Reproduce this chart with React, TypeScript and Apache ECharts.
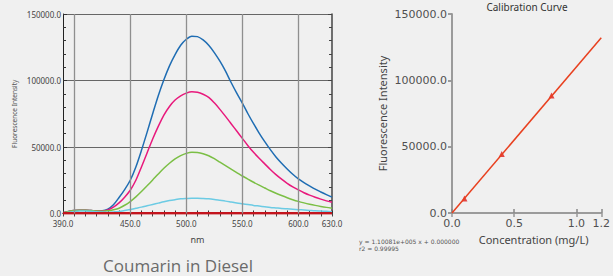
import React, { useEffect, useRef } from "react";
import * as echarts from "echarts";

const wavelengths = [390, 395, 400, 405, 410, 415, 420, 425, 430, 435, 440, 445, 450, 455, 460, 465, 470, 475, 480, 485, 490, 495, 500, 505, 510, 515, 520, 525, 530, 535, 540, 545, 550, 555, 560, 565, 570, 575, 580, 585, 590, 595, 600, 605, 610, 615, 620, 625, 630];
const blueValues = [600, 1500, 2200, 2500, 2500, 2200, 1900, 2000, 3200, 6500, 12000, 18000, 25000, 35000, 47500, 61000, 75000, 88500, 100500, 111000, 119500, 126500, 131000, 133300, 133000, 130500, 126500, 121000, 114500, 107000, 98500, 90500, 83000, 75000, 67500, 60500, 54000, 48000, 42500, 37800, 33500, 29500, 26000, 23200, 20700, 18300, 16200, 14200, 12300];
const magentaValues = [600, 1500, 2200, 2500, 2500, 2200, 1800, 1800, 2700, 4800, 8000, 12300, 17500, 25000, 35000, 45500, 56000, 65500, 74000, 80500, 85300, 88500, 90500, 91500, 91200, 89700, 87300, 83200, 78300, 73000, 67500, 62000, 56500, 51000, 46000, 41500, 37300, 33100, 29200, 25800, 22700, 20000, 17700, 15600, 13800, 12200, 10800, 9500, 8400];
const greenValues = [600, 1500, 2200, 2500, 2500, 2200, 1800, 1700, 2000, 2800, 4000, 6200, 9000, 12500, 16500, 20800, 25200, 29700, 34000, 37800, 41000, 43500, 45200, 46000, 45800, 44900, 43400, 41200, 38600, 36000, 33400, 30800, 28200, 25800, 23500, 21300, 19200, 17100, 15200, 13500, 11900, 10400, 9100, 8000, 7000, 6100, 5300, 4600, 4000];
const cyanValues = [300, 900, 1500, 1800, 1800, 1600, 1300, 1100, 1000, 1200, 1500, 2200, 3000, 3900, 4800, 5800, 6800, 7800, 8800, 9700, 10400, 11000, 11300, 11500, 11500, 11300, 11000, 10500, 9900, 9300, 8600, 7900, 7300, 6700, 6100, 5600, 5100, 4600, 4200, 3800, 3500, 3200, 2900, 2600, 2300, 2000, 1800, 1600, 1400];
const redValues = [150, 180, 200, 200, 200, 200, 200, 200, 200, 200, 200, 200, 200, 200, 200, 200, 200, 200, 200, 200, 200, 200, 200, 200, 200, 200, 200, 200, 200, 200, 200, 200, 200, 200, 200, 200, 200, 200, 200, 200, 200, 200, 200, 200, 200, 200, 200, 200, 200];

const spectrumXLabels = [390, 450, 500, 550, 600, 630];
const spectrumGridX = [400, 450, 500, 550, 600];

const calibConc = [0.1, 0.4, 0.8];
const calibIntensity = [11000, 44500, 88500];
const fitConc = [0, 1.2];
const fitIntensity = [0, 132097];

const equationLines = ["y = 1.10081e+005 x + 0.000000", "r2 = 0.99995"];

const pair = (xs: number[], ys: number[]) => xs.map((x, i) => [x, ys[i]]);

export default function App() {
  const ref = useRef<HTMLDivElement>(null);
  useEffect(() => {
    if (!ref.current) return;
    const chart = echarts.init(ref.current, null, { renderer: "svg" });
    const leftFont = "Noto Sans";
    const rightFont = "DejaVu Sans";
    const curve = (name: string, ys: number[], color: string, width = 1.5) => ({
      name,
      type: "line",
      xAxisIndex: 0,
      yAxisIndex: 0,
      data: pair(wavelengths, ys),
      smooth: 0.3,
      showSymbol: false,
      symbol: "none",
      lineStyle: { color, width },
      z: 3,
    });
    chart.setOption({
      animation: false,
      backgroundColor: "#f0f0f0",
      grid: [
        { left: 63, top: 14, width: 269, height: 199.5 },
        { left: 452, top: 14, width: 156, height: 199 },
      ],
      xAxis: [
        {
          gridIndex: 0,
          type: "value",
          min: 390,
          max: 630,
          interval: 10,
          axisLine: { lineStyle: { color: "#222", width: 1 } },
          axisTick: { inside: true, length: 3, lineStyle: { color: "#333" } },
          axisLabel: {
            formatter: (v: number) => (spectrumXLabels.includes(Math.round(v)) ? v.toFixed(1) : ""),
            fontSize: 8,
            color: "#444",
            fontFamily: leftFont,
            margin: 6,
          },
          splitLine: { show: false },
          name: "nm",
          nameLocation: "middle",
          nameGap: 21,
          nameTextStyle: { fontSize: 9, color: "#444", fontFamily: leftFont },
        },
        {
          gridIndex: 0,
          type: "value",
          position: "top",
          min: 390,
          max: 630,
          interval: 10,
          axisLine: { lineStyle: { color: "#444", width: 1 } },
          axisTick: { inside: true, length: 3, lineStyle: { color: "#444" } },
          axisLabel: { show: false },
          splitLine: { show: false },
        },
        {
          gridIndex: 1,
          type: "value",
          min: 0,
          max: 1.2,
          interval: 0.5,
          axisLine: { lineStyle: { color: "#888", width: 1.5 } },
          axisTick: { inside: true, length: 4, lineStyle: { color: "#888", width: 1.5 } },
          axisLabel: {
            formatter: (v: number) => v.toFixed(1),
            fontSize: 11,
            color: "#505050",
            fontFamily: rightFont,
            margin: 5,
          },
          splitLine: { show: false },
          name: "Concentration (mg/L)",
          nameLocation: "middle",
          nameGap: 20,
          nameTextStyle: { fontSize: 11, color: "#444", fontFamily: leftFont, padding: [0, 0, 0, 14] },
        },
        {
          gridIndex: 1,
          type: "value",
          position: "top",
          min: 0,
          max: 1.2,
          interval: 0.5,
          axisLine: { lineStyle: { color: "#999", width: 1.5 } },
          axisTick: { inside: true, length: 4, lineStyle: { color: "#999", width: 1.5 } },
          axisLabel: { show: false },
          splitLine: { show: false },
        },
      ],
      yAxis: [
        {
          gridIndex: 0,
          type: "value",
          min: 0,
          max: 150000,
          interval: 50000,
          axisLine: { show: true, lineStyle: { color: "#222", width: 1 } },
          axisTick: { show: true, inside: true, length: 4, lineStyle: { color: "#333" } },
          minorTick: { show: true, splitNumber: 5, length: 3, lineStyle: { color: "#333" } },
          axisLabel: {
            formatter: (v: number) => v.toFixed(1),
            fontSize: 8,
            color: "#444",
            fontFamily: leftFont,
            margin: 2,
          },
          splitLine: { show: true, lineStyle: { color: "#666", width: 1 } },
          name: "Fluorescence Intensity",
          nameLocation: "middle",
          nameGap: 45,
          nameTextStyle: { fontSize: 6.5, color: "#555", fontFamily: leftFont },
        },
        {
          gridIndex: 0,
          type: "value",
          position: "right",
          min: 0,
          max: 150000,
          interval: 50000,
          axisLine: { show: true, lineStyle: { color: "#444", width: 1.5 } },
          axisTick: { show: true, inside: true, length: 4, lineStyle: { color: "#444" } },
          minorTick: { show: true, splitNumber: 5, length: 3, lineStyle: { color: "#444" } },
          axisLabel: { show: false },
          splitLine: { show: false },
        },
        {
          gridIndex: 1,
          type: "value",
          min: 0,
          max: 150000,
          interval: 50000,
          axisLine: { show: true, lineStyle: { color: "#888", width: 1.5 } },
          axisTick: { show: true, inside: false, length: 4, lineStyle: { color: "#888", width: 1.5 } },
          axisLabel: {
            formatter: (v: number) => v.toFixed(1),
            fontSize: 11,
            color: "#505050",
            fontFamily: rightFont,
            margin: 5,
          },
          splitLine: { show: false },
          name: "Fluorescence Intensity",
          nameLocation: "middle",
          nameGap: 64,
          nameTextStyle: { fontSize: 11, color: "#444", fontFamily: leftFont },
        },
        {
          gridIndex: 1,
          type: "value",
          position: "right",
          min: 0,
          max: 150000,
          interval: 50000,
          axisLine: { show: true, lineStyle: { color: "#999", width: 1.5 } },
          axisTick: { show: true, inside: true, length: 4, lineStyle: { color: "#999", width: 1.5 } },
          axisLabel: { show: false },
          splitLine: { show: false },
        },
      ],
      series: [
        {
          type: "line",
          xAxisIndex: 0,
          yAxisIndex: 0,
          data: [],
          symbol: "none",
          z: 1,
          markLine: {
            silent: true,
            symbol: "none",
            label: { show: false },
            lineStyle: { color: "#8f8f8f", width: 1.3, type: "solid" },
            data: spectrumGridX.map((x) => ({ xAxis: x })),
          },
        },
        curve("blue", blueValues, "#1f6db3"),
        curve("magenta", magentaValues, "#e8197c"),
        curve("green", greenValues, "#7bbf45"),
        curve("cyan", cyanValues, "#6ccbe4"),
        curve("red", redValues, "#c3141d", 2.5),
        {
          type: "line",
          xAxisIndex: 2,
          yAxisIndex: 2,
          data: pair(fitConc, fitIntensity),
          symbol: "none",
          lineStyle: { color: "#e8401f", width: 1.5 },
        },
        {
          type: "scatter",
          xAxisIndex: 2,
          yAxisIndex: 2,
          data: pair(calibConc, calibIntensity),
          symbol: "triangle",
          symbolSize: 6,
          itemStyle: { color: "#dd1a1a" },
        },
      ],
      graphic: [
        {
          type: "text",
          x: 178,
          y: 265,
          style: {
            text: "Coumarin in Diesel",
            fontSize: 17,
            fontFamily: "Open Sans",
            fill: "#6a6a6a",
            textAlign: "center",
            textVerticalAlign: "middle",
          },
        },
        {
          type: "text",
          x: 527,
          y: 7,
          style: {
            text: "Calibration Curve",
            fontSize: 10,
            fontFamily: leftFont,
            fill: "#333",
            textAlign: "center",
            textVerticalAlign: "middle",
          },
        },
        {
          type: "text",
          x: 359,
          y: 241,
          style: {
            text: equationLines[0],
            fontSize: 6,
            fontFamily: rightFont,
            fill: "#555",
            textVerticalAlign: "middle",
          },
        },
        {
          type: "text",
          x: 359,
          y: 248,
          style: {
            text: equationLines[1],
            fontSize: 6,
            fontFamily: rightFont,
            fill: "#555",
            textVerticalAlign: "middle",
          },
        },
      ],
    });
    return () => chart.dispose();
  }, []);
  return (
    <div
      ref={ref}
      style={{ position: "fixed", left: 0, top: 0, width: 613, height: 276 }}
    />
  );
}
